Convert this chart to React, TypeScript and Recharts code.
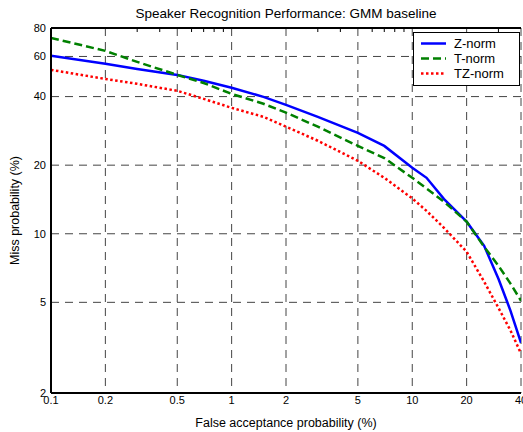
import React from "react";
import { CartesianGrid, Legend, Line, LineChart, XAxis, YAxis } from "recharts";

// false acceptance probability (%), sampled along the curves
const faValues = [0.1, 0.2, 0.3, 0.5, 0.7, 1, 1.5, 2, 3, 5, 7, 10, 12, 15, 20, 25, 30, 35, 40];

// miss probability (%) per normalisation
const zNorm = [60.4, 55.7, 52.9, 49.8, 46.9, 43.7, 39.9, 36.8, 32.6, 27.7, 24.3, 19.5, 17.6, 14.2, 11.3, 8.85, 6.35, 4.59, 3.32];
const tNorm = [72.4, 63.5, 56.8, 49.8, 45.9, 41.1, 37.2, 34.0, 29.5, 24.3, 21.5, 17.6, 15.8, 13.8, 11.3, 8.77, 7.24, 6.04, 5.08];
const tzNorm = [52.4, 47.8, 45.5, 42.4, 39.1, 35.7, 32.6, 29.5, 25.6, 20.9, 17.6, 14.3, 12.6, 10.6, 8.34, 6.16, 4.73, 3.76, 2.98];

const xTicks = [0.1, 0.2, 0.5, 1, 2, 5, 10, 20, 40];
const xMinorTicks = [0.3, 0.4, 0.6, 0.7, 0.8, 0.9, 3, 4, 6, 7, 8, 9, 30];
const yTicks = [2, 5, 10, 20, 40, 60, 80];

const TITLE = "Speaker Recognition Performance: GMM baseline";
const X_LABEL = "False acceptance probability (%)";
const Y_LABEL = "Miss probability (%)";

const SERIES = [
  { key: "z", name: "Z-norm", color: "#0000ff", dash: undefined as string | undefined },
  { key: "t", name: "T-norm", color: "#008000", dash: "8 4" },
  { key: "tz", name: "TZ-norm", color: "#ff0000", dash: "2.5 2.5" },
];

const FONT = "'Liberation Sans', Arial, Helvetica, sans-serif";

const data = faValues.map((fa, i) => ({ fa, z: zNorm[i], t: tNorm[i], tz: tzNorm[i] }));

function MinorTickUp({ x, y }: any) {
  return <line x1={x} x2={x} y1={y} y2={y - 4} stroke="#000" strokeWidth={1} />;
}

function MinorTickDown({ x, y }: any) {
  return <line x1={x} x2={x} y1={y} y2={y + 4} stroke="#000" strokeWidth={1} />;
}

function LegendBox() {
  return (
    <div
      style={{
        border: "1px solid #000",
        background: "#fff",
        padding: "3px 0 4px 0",
        fontFamily: FONT,
        fontSize: 13,
        color: "#000",
      }}
    >
      {SERIES.map((s) => (
        <div key={s.key} style={{ display: "flex", alignItems: "center", height: 15 }}>
          <svg width={40} height={15} style={{ display: "block" }}>
            <line
              x1={7}
              x2={32}
              y1={7.5}
              y2={7.5}
              stroke={s.color}
              strokeWidth={2.5}
              strokeDasharray={s.dash}
            />
          </svg>
          <span>{s.name}</span>
        </div>
      ))}
    </div>
  );
}

export default function App() {
  return (
    <div style={{ position: "absolute", left: 0, top: 0, fontFamily: FONT }}>
      <LineChart width={523} height={432} data={data} margin={{ top: 0, right: 2, bottom: 0, left: 0 }}>
        <CartesianGrid stroke="#444" strokeDasharray="8 6" strokeWidth={1} />
        <XAxis
          xAxisId="minor"
          dataKey="fa"
          type="number"
          scale="log"
          domain={[0.1, 40]}
          allowDataOverflow
          ticks={xMinorTicks}
          interval={0}
          height={0}
          axisLine={false}
          tickLine={false}
          tickSize={0}
          tickMargin={0}
          tick={<MinorTickUp />}
        />
        <XAxis
          dataKey="fa"
          type="number"
          scale="log"
          domain={[0.1, 40]}
          allowDataOverflow
          ticks={xTicks}
          interval={0}
          height={39}
          tickLine={false}
          tickSize={0}
          tickMargin={3}
          tick={{ fill: "#000", fontSize: 11 }}
          axisLine={{ stroke: "#000", strokeWidth: 2 }}
          label={{ value: X_LABEL, position: "insideBottom", offset: 5, fill: "#000", fontSize: 12.5 }}
        />
        <XAxis
          xAxisId="top"
          orientation="top"
          dataKey="fa"
          type="number"
          scale="log"
          domain={[0.1, 40]}
          allowDataOverflow
          ticks={xMinorTicks}
          interval={0}
          height={28}
          tickLine={false}
          tickSize={0}
          tickMargin={0}
          tick={<MinorTickDown />}
          axisLine={{ stroke: "#000", strokeWidth: 2 }}
          label={{ value: TITLE, position: "insideTop", offset: 8, fill: "#000", fontSize: 13.5 }}
        />
        <YAxis
          type="number"
          scale="log"
          domain={[2, 80]}
          allowDataOverflow
          ticks={yTicks}
          interval={0}
          width={51}
          tickLine={false}
          tickSize={0}
          tickMargin={5}
          tick={{ fill: "#000", fontSize: 11 }}
          axisLine={{ stroke: "#000", strokeWidth: 2 }}
          label={{
            value: Y_LABEL,
            angle: -90,
            position: "insideLeft",
            offset: 15,
            fill: "#000",
            fontSize: 12.5,
            style: { textAnchor: "middle" },
          }}
        />
        <YAxis
          yAxisId="right"
          orientation="right"
          type="number"
          scale="log"
          domain={[2, 80]}
          allowDataOverflow
          width={0}
          tick={false}
          tickLine={false}
          axisLine={{ stroke: "#000", strokeWidth: 2 }}
        />
        {SERIES.map((s) => (
          <Line
            key={s.key}
            type="linear"
            dataKey={s.key}
            name={s.name}
            stroke={s.color}
            strokeWidth={2.5}
            strokeDasharray={s.dash}
            dot={false}
            activeDot={false}
            isAnimationActive={false}
          />
        ))}
        <Legend
          layout="vertical"
          align="center"
          verticalAlign="middle"
          content={<LegendBox />}
          wrapperStyle={{ position: "absolute", left: 413, top: 32, width: 107, height: "auto" }}
        />
      </LineChart>
    </div>
  );
}
